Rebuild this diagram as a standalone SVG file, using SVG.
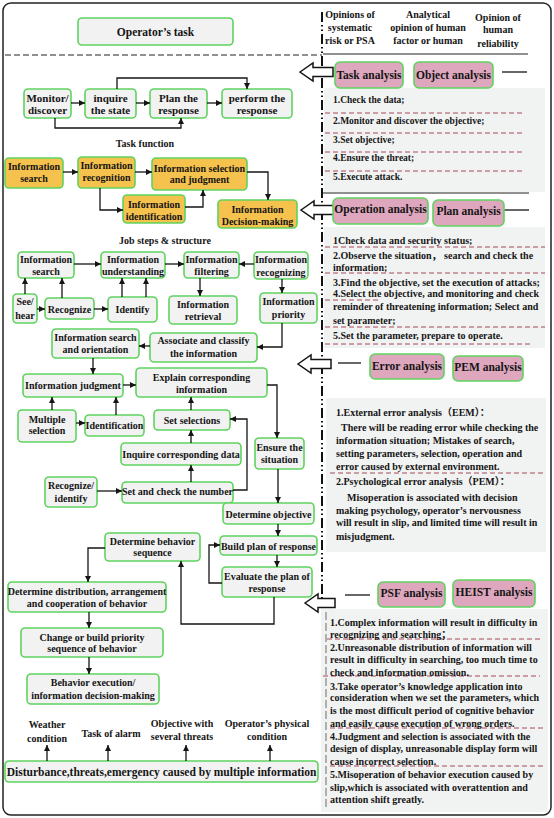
<svg xmlns="http://www.w3.org/2000/svg" width="554" height="818" viewBox="0 0 554 818">
<style>
text{font-family:"Liberation Serif","Times New Roman","Noto Sans CJK SC",serif;font-weight:bold;font-size:10px;fill:#151515}
.c{text-anchor:middle}
.n rect{fill:#f1f2f1;stroke:#5fd35f;stroke-width:1.6}
.o rect{fill:#f5c24e;stroke:#5fd35f;stroke-width:1.6}
.p rect{fill:#dea7bd;stroke:#5fd35f;stroke-width:1.6}
.p text{font-size:11.5px}
.big text{font-size:11px}
.pn{fill:#f1f3f2}
.dr{stroke:#a8485a;stroke-width:1;stroke-dasharray:5 3;fill:none}
#conn path{fill:none;stroke:#151515;stroke-width:1.3}
.ha{fill:#fff;stroke:#151515;stroke-width:1.5}
.pt text{font-size:10px}
.pt1 text{font-size:9.5px}
</style>
<defs>
<marker id="a" viewBox="0 0 10 10" refX="10" refY="5" markerWidth="6" markerHeight="6" markerUnits="userSpaceOnUse" orient="auto"><path d="M0,0L10,5L0,10z" fill="#151515"/></marker>
</defs>
<rect x="3" y="3" width="548" height="812" rx="8" fill="#fff" stroke="#222" stroke-width="1.5"/>
<!-- panels background -->
<rect class="pn" x="324" y="88" width="221" height="104"/>
<rect class="pn" x="324" y="227" width="221" height="121"/>
<rect class="pn" x="326" y="398" width="220" height="154"/>
<rect class="pn" x="321" y="609" width="227" height="203"/>
<!-- separators -->
<line x1="5" y1="55" x2="322" y2="55" stroke="#222" stroke-width="1.2" stroke-dasharray="6 3"/>
<line x1="323" y1="54" x2="528" y2="54" stroke="#222" stroke-width="1.2"/>
<line x1="322" y1="12" x2="322" y2="598" stroke="#111" stroke-width="2" stroke-dasharray="10 3 1.5 3 1.5 3"/>
<line x1="326" y1="612" x2="326" y2="810" stroke="#999" stroke-width="1.5" stroke-dasharray="8 3"/>
<line x1="323" y1="193" x2="529" y2="193" stroke="#222" stroke-width="1.2"/>
<!-- header -->
<g id="header">
<text class="c" x="350" y="18">Opinions of</text>
<text class="c" x="350" y="30.5">systematic</text>
<text class="c" x="350" y="44">risk or PSA</text>
<text class="c" x="428" y="17.5">Analytical</text>
<text class="c" x="428" y="30.5">opinion of human</text>
<text class="c" x="428" y="43.5">factor or human</text>
<text class="c" x="498" y="20.5">Opinion of</text>
<text class="c" x="498" y="33">human</text>
<text class="c" x="498" y="47">reliability</text>
</g>
<g id="optask" class="n"><rect x="78" y="18" width="155" height="27" rx="4"/><text class="c" x="155.5" y="35.5" style="font-size:11.5px">Operator’s task</text></g>
<!-- row 1 -->
<g class="n big">
<g id="monitor"><rect x="24" y="89" width="47" height="29" rx="4"/><text class="c" x="47.5" y="102">Monitor/</text><text class="c" x="47.5" y="114">discover</text></g>
<g id="inquirestate"><rect x="85" y="89" width="51" height="29" rx="4"/><text class="c" x="110.5" y="102">inquire</text><text class="c" x="110.5" y="114">the state</text></g>
<g id="planresp"><rect x="150" y="89" width="57" height="29" rx="4"/><text class="c" x="178.5" y="102">Plan the</text><text class="c" x="178.5" y="114">response</text></g>
<g id="perform"><rect x="222" y="89" width="70" height="29" rx="4"/><text class="c" x="257" y="102">perform the</text><text class="c" x="257" y="114">response</text></g>
</g>
<text class="c" x="145" y="146.5">Task function</text>
<!-- row 2 orange -->
<g class="o">
<g id="osearch"><rect x="5" y="158" width="58" height="30" rx="4"/><text class="c" x="34" y="170">Information</text><text class="c" x="34" y="182">search</text></g>
<g id="orecog"><rect x="78" y="157" width="57" height="31" rx="4"/><text class="c" x="106.5" y="169">Information</text><text class="c" x="106.5" y="181">recognition</text></g>
<g id="osel"><rect x="152" y="158" width="95" height="32" rx="4"/><text class="c" x="199.5" y="171.5">Information selection</text><text class="c" x="199.5" y="183">and judgment</text></g>
<g id="oident"><rect x="123" y="195" width="62" height="28" rx="4"/><text class="c" x="154" y="207.5">Information</text><text class="c" x="154" y="219.5">identification</text></g>
<g id="odm"><rect x="218" y="200" width="79" height="28" rx="4"/><text class="c" x="257.5" y="212.5">Information</text><text class="c" x="257.5" y="225">Decision-making</text></g>
</g>
<text class="c" x="165" y="243.5">Job steps &amp; structure</text>
<!-- row 3 and below -->
<g class="n">
<g id="isearch"><rect x="18" y="252" width="56" height="26" rx="4"/><text class="c" x="46" y="263">Information</text><text class="c" x="46" y="275">search</text></g>
<g id="iunder"><rect x="101" y="252" width="64" height="26" rx="4"/><text class="c" x="133" y="262.5">Information</text><text class="c" x="133" y="275">understanding</text></g>
<g id="ifilter"><rect x="184" y="252" width="55" height="26" rx="4"/><text class="c" x="211.5" y="262.5">Information</text><text class="c" x="211.5" y="275">filtering</text></g>
<g id="irecog"><rect x="254" y="252" width="54" height="27" rx="4"/><text class="c" x="281" y="263">Information</text><text class="c" x="281" y="275.5">recognizing</text></g>
<g id="seehear"><rect x="13" y="294" width="24" height="29" rx="4"/><text class="c" x="25" y="305">See/</text><text class="c" x="25" y="318.5">hear</text></g>
<g id="recognize"><rect x="45" y="298" width="49" height="21" rx="4"/><text class="c" x="69.5" y="312.5">Recognize</text></g>
<g id="identify"><rect x="108" y="297" width="49" height="25" rx="4"/><text class="c" x="132.5" y="312.5">Identify</text></g>
<g id="iretr"><rect x="169" y="296" width="68" height="28" rx="4"/><text class="c" x="203" y="307.5">Information</text><text class="c" x="203" y="319.5">retrieval</text></g>
<g id="iprio"><rect x="260" y="293" width="57" height="30" rx="4"/><text class="c" x="288.5" y="305">Information</text><text class="c" x="288.5" y="318">priority</text></g>
<g id="assoc"><rect x="150" y="333" width="107" height="29" rx="4"/><text class="c" x="203.5" y="344">Associate and classify</text><text class="c" x="203.5" y="357">the information</text></g>
<g id="isorient"><rect x="52" y="329" width="87" height="29" rx="4"/><text class="c" x="95.5" y="340.5">Information search</text><text class="c" x="95.5" y="353">and orientation</text></g>
<g id="ijudg"><rect x="23" y="374" width="100" height="23" rx="4"/><text class="c" x="73" y="388.5">Information judgment</text></g>
<g id="explain"><rect x="136" y="368" width="131" height="29" rx="4"/><text class="c" x="201.5" y="380.5">Explain corresponding</text><text class="c" x="201.5" y="393">information</text></g>
<g id="multsel"><rect x="18" y="410" width="58" height="32" rx="4"/><text class="c" x="47" y="422.5">Multiple</text><text class="c" x="47" y="434">selection</text></g>
<g id="identif"><rect x="85" y="415" width="59" height="21" rx="4"/><text class="c" x="114.5" y="428.5">Identification</text></g>
<g id="setsel"><rect x="154" y="410" width="76" height="20" rx="4"/><text class="c" x="192" y="424">Set selections</text></g>
<g id="inquiredata"><rect x="121" y="443" width="120" height="22" rx="4"/><text class="c" x="181" y="457.5">Inquire corresponding data</text></g>
<g id="recid"><rect x="45" y="477" width="52" height="30" rx="4"/><text class="c" x="71" y="489">Recognize/</text><text class="c" x="71" y="501.5">identify</text></g>
<g id="setcheck"><rect x="122" y="482" width="111" height="21" rx="4"/><text class="c" x="177.5" y="495">Set and check the number</text></g>
<g id="ensure"><rect x="255" y="438" width="49" height="31" rx="4"/><text class="c" x="279.5" y="451">Ensure the</text><text class="c" x="279.5" y="463">situation</text></g>
<g id="detobj"><rect x="223" y="503" width="91" height="21" rx="4"/><text class="c" x="268.5" y="517.5">Determine objective</text></g>
<g id="detbeh"><rect x="105" y="533" width="95" height="28" rx="4"/><text class="c" x="152.5" y="544.5">Determine behavior</text><text class="c" x="152.5" y="556">sequence</text></g>
<g id="build"><rect x="220" y="536" width="97" height="19" rx="4"/><text class="c" x="268.5" y="549.5">Build plan of response</text></g>
<g id="eval"><rect x="222" y="567" width="90" height="30" rx="4"/><text class="c" x="267" y="579.5">Evaluate the plan of</text><text class="c" x="267" y="591.5">response</text></g>
<g id="distr"><rect x="8" y="582" width="158" height="30" rx="4"/><text class="c" x="87" y="594.5">Determine distribution, arrangement</text><text class="c" x="87" y="606.5">and cooperation of behavior</text></g>
<g id="change"><rect x="21" y="628" width="142" height="29" rx="4"/><text class="c" x="92" y="640.5">Change or build priority</text><text class="c" x="92" y="652">sequence of behavior</text></g>
<g id="behexec"><rect x="27" y="674" width="132" height="30" rx="4"/><text class="c" x="93" y="686">Behavior execution/</text><text class="c" x="93" y="698.5">information decision-making</text></g>
<g id="disturb"><rect x="5" y="761" width="313" height="21" rx="4"/><text class="c" x="161.5" y="775.5" style="font-size:11.5px">Disturbance,threats,emergency caused by multiple information</text></g>
</g>
<!-- bottom labels -->
<g id="factors">
<text class="c" x="47" y="728">Weather</text><text class="c" x="47" y="742">condition</text>
<text class="c" x="111" y="737">Task of alarm</text>
<text class="c" x="182" y="727">Objective with</text><text class="c" x="182" y="740">several threats</text>
<text class="c" x="267" y="727">Operator’s physical</text><text class="c" x="267" y="740">condition</text>
</g>
<!-- connectors -->
<g id="conn">
<path d="M71,103H85" marker-end="url(#a)"/>
<path d="M136,103H150" marker-end="url(#a)"/>
<path d="M207,103H222" marker-end="url(#a)"/>
<path d="M117,89V78H247V89" marker-end="url(#a)"/>
<path d="M55,118V128H181V118" marker-end="url(#a)"/>
<path d="M63,172H78" marker-end="url(#a)"/>
<path d="M135,172H152" marker-end="url(#a)"/>
<path d="M100,188V210H123" marker-end="url(#a)"/>
<path d="M185,207H203V190" marker-end="url(#a)"/>
<path d="M247,172H268V200" marker-end="url(#a)"/>
<path d="M74,264H101" marker-end="url(#a)"/>
<path d="M165,264H184" marker-end="url(#a)"/>
<path d="M254,264H239" marker-end="url(#a)"/>
<path d="M200,278V296" marker-end="url(#a)"/>
<path d="M282,279V293" marker-end="url(#a)"/>
<path d="M37,309H45" marker-end="url(#a)"/>
<path d="M94,309H108" marker-end="url(#a)"/>
<path d="M25,294V278" marker-end="url(#a)"/>
<path d="M62,298V278" marker-end="url(#a)"/>
<path d="M122,297V278" marker-end="url(#a)"/>
<path d="M146,297V278" marker-end="url(#a)"/>
<path d="M282,323V347H257" marker-end="url(#a)"/>
<path d="M150,346H139" marker-end="url(#a)"/>
<path d="M93,358V374" marker-end="url(#a)"/>
<path d="M123,385H136" marker-end="url(#a)"/>
<path d="M267,385H277V438" marker-end="url(#a)"/>
<path d="M52,410V397" marker-end="url(#a)"/>
<path d="M116,415V397" marker-end="url(#a)"/>
<path d="M76,423H85" marker-end="url(#a)"/>
<path d="M191,410V397" marker-end="url(#a)"/>
<path d="M191,443V430" marker-end="url(#a)"/>
<path d="M191,482V465" marker-end="url(#a)"/>
<path d="M97,491H122" marker-end="url(#a)"/>
<path d="M233,490H247V419H230" marker-end="url(#a)"/>
<path d="M278,469V503" marker-end="url(#a)"/>
<path d="M278,524V536" marker-end="url(#a)"/>
<path d="M277,555V567" marker-end="url(#a)"/>
<path d="M222,583H209V545H220" marker-end="url(#a)"/>
<path d="M274,597V624H181V561" marker-end="url(#a)"/>
<path d="M105,548H88V582" marker-end="url(#a)"/>
<path d="M89,612V628" marker-end="url(#a)"/>
<path d="M89,657V674" marker-end="url(#a)"/>
<path d="M47,761V745" marker-end="url(#a)"/>
<path d="M108,761V745" marker-end="url(#a)"/>
<path d="M186,761V745" marker-end="url(#a)"/>
<path d="M270,761V745" marker-end="url(#a)"/>
<path d="M502,72H527"/>
<path d="M504,210H529"/>
<path d="M338,363H361"/>
<path d="M345,595H370"/>
</g>
<!-- hollow arrows -->
<g id="harrows">
<polygon class="ha" points="300,72 313,63 313,67.5 333,67.5 333,76.5 313,76.5 313,81"/>
<polygon class="ha" points="301,210 314,201 314,205.5 334,205.5 334,214.5 314,214.5 314,219"/>
<polygon class="ha" points="298,364 311,355 311,359.5 331,359.5 331,368.5 311,368.5 311,373"/>
<polygon class="ha" points="305,603 318,594 318,598.5 335,598.5 335,607.5 318,607.5 318,612"/>
</g>
<!-- pink analysis boxes -->
<g class="p">
<g id="taskan"><rect x="335" y="62" width="68" height="26" rx="5"/><text class="c" x="369" y="79">Task analysis</text></g>
<g id="objan"><rect x="414" y="62" width="79" height="26" rx="5"/><text class="c" x="453.5" y="78.5">Object analysis</text></g>
<g id="opan"><rect x="333" y="198" width="95" height="26" rx="5"/><text class="c" x="380.5" y="213">Operation analysis</text></g>
<g id="planan"><rect x="433" y="200" width="71" height="26" rx="5"/><text class="c" x="468.5" y="215">Plan analysis</text></g>
<g id="erran"><rect x="370" y="354" width="74" height="25" rx="5"/><text class="c" x="407" y="370">Error analysis</text></g>
<g id="peman"><rect x="453" y="356" width="70" height="25" rx="5"/><text class="c" x="488" y="371">PEM analysis</text></g>
<g id="psfan"><rect x="378" y="582" width="67" height="25" rx="5"/><text class="c" x="411.5" y="596.5">PSF analysis</text></g>
<g id="heistan"><rect x="453" y="580" width="82" height="27" rx="5"/><text class="c" x="494" y="596">HEIST analysis</text></g>
</g>
<!-- dashed red lines -->
<g id="dashes">
<path class="dr" d="M325,113H523M325,133H523M325,152H523M325,171H523"/>
<path class="dr" d="M325,247H545M325,273H545M325,300H378M325,327H545M325,344H530"/>
<path class="dr" d="M330,473H545"/>
<path class="dr" d="M327,639H540M323,676H540M330,728H545M330,766H545"/>
</g>
<!-- panel texts -->
<g class="pt1">
<text x="333" y="103">1.Check the data;</text>
<text x="333" y="124">2.Monitor and discover the objective;</text>
<text x="333" y="143">3.Set objective;</text>
<text x="333" y="161">4.Ensure the threat;</text>
<text x="333" y="180">5.Execute attack.</text>
</g>
<g class="pt">
<text x="333" y="244">1Check data and security status;</text>
<text x="333" y="259">2.Observe the situation，  search and check the</text>
<text x="333" y="271">information;</text>
<text x="333" y="286">3.Find the objective, set the execution of attacks;</text>
<text x="333" y="297">4.Select the objective, and monitoring and check</text>
<text x="333" y="310">reminder of threatening information; Select and</text>
<text x="333" y="324">set parameter;</text>
<text x="333" y="339">5.Set the parameter, prepare to operate.</text>
<text x="336" y="416">1.External error analysis（EEM）：</text>
<text x="341" y="431">There will be reading error while checking the</text>
<text x="336" y="444">information situation; Mistakes of search,</text>
<text x="336" y="457">setting parameters, selection, operation and</text>
<text x="336" y="470">error caused by external environment.</text>
<text x="336" y="485">2.Psychological error analysis（PEM）：</text>
<text x="347" y="501">Misoperation is associated with decision</text>
<text x="336" y="514">making psychology, operator’s nervousness</text>
<text x="336" y="526">will result in slip, and limited time will result in</text>
<text x="336" y="540">misjudgment.</text>
<text x="330" y="626">1.Complex information will result in difficulty in</text>
<text x="330" y="638">recognizing and searching；</text>
<text x="330" y="651">2.Unreasonable distribution of information will</text>
<text x="330" y="663">result in difficulty in searching, too much time to</text>
<text x="330" y="676">check and information omission.</text>
<text x="330" y="690">3.Take operator’s knowledge application into</text>
<text x="330" y="701">consideration when we set the parameters, which</text>
<text x="330" y="714">is the most difficult period of cognitive behavior</text>
<text x="330" y="727">and easily cause execution of wrong orders.</text>
<text x="330" y="740">4.Judgment and selection is associated with the</text>
<text x="330" y="752">design of display, unreasonable display form will</text>
<text x="330" y="765">cause incorrect selection.</text>
<text x="330" y="778">5.Misoperation of behavior execution caused by</text>
<text x="330" y="791">slip,which is associated with overattention and</text>
<text x="330" y="803">attention shift greatly.</text>
</g>
</svg>
